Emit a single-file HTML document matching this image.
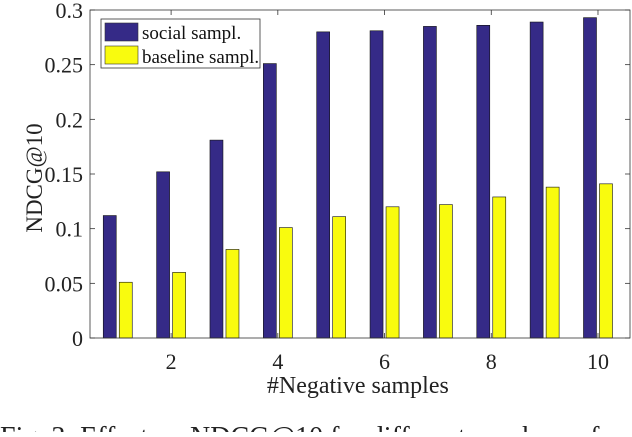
<!DOCTYPE html>
<html><head><meta charset="utf-8"><style>
body{margin:0;background:#fff;width:632px;height:432px;overflow:hidden}
svg{font-family:"Liberation Serif",serif}
</style></head><body>
<svg id="chart" width="632" height="432" xmlns="http://www.w3.org/2000/svg"></svg>
<script>
const categories=[1,2,3,4,5,6,7,8,9,10];
const socialValues=[0.112,0.152,0.181,0.251,0.280,0.281,0.285,0.286,0.289,0.293];
const baselineValues=[0.051,0.060,0.081,0.101,0.111,0.120,0.122,0.129,0.138,0.141];
const xTicks=[2,4,6,8,10];
const yTicks=[0,0.05,0.1,0.15,0.2,0.25,0.3];
const yTickLabels=["0","0.05","0.1","0.15","0.2","0.25","0.3"];
const L=90,R=630,T=10,B=338,xmin=0.48,xmax=10.6,ymax=0.3;
const X=v=>L+(v-xmin)/(xmax-xmin)*(R-L);
const Y=v=>B-v/ymax*(B-T);
const svg=document.getElementById('chart');
const NS="http://www.w3.org/2000/svg";
function mk(t,a,txt){const e=document.createElementNS(NS,t);for(const k in a)e.setAttribute(k,a[k]);if(txt!=null)e.textContent=txt;svg.appendChild(e);return e;}
const bw=13;
categories.forEach((c,i)=>{
 let b=mk('rect',{x:X(c)-8-bw/2,y:Y(socialValues[i]),width:bw,height:B-Y(socialValues[i]),fill:'#352a87',stroke:'#111','stroke-width':0.6});
 
 
 let y=mk('rect',{x:X(c)+8-bw/2,y:Y(baselineValues[i]),width:bw,height:B-Y(baselineValues[i]),fill:'#f9fb0e',stroke:'#111','stroke-width':0.6});
 
 
});
let ax=mk('rect',{x:L,y:T,width:R-L,height:B-T,fill:'none',stroke:'#333','stroke-width':0.8});


xTicks.forEach(t=>{
 mk('line',{x1:X(t),x2:X(t),y1:B,y2:B-5,stroke:'#333','stroke-width':0.8});
 mk('line',{x1:X(t),x2:X(t),y1:T,y2:T+5,stroke:'#333','stroke-width':0.8});
 let l=mk('text',{x:X(t),y:B+31,'text-anchor':'middle','font-size':22,fill:'#222'},t);
 
 
});
yTicks.forEach((t,i)=>{
 mk('line',{x1:L,x2:L+5,y1:Y(t),y2:Y(t),stroke:'#333','stroke-width':0.8});
 mk('line',{x1:R,x2:R-5,y1:Y(t),y2:Y(t),stroke:'#333','stroke-width':0.8});
 let l=mk('text',{x:L-7,y:Y(t)+8,'text-anchor':'end','font-size':22,fill:'#222'},yTickLabels[i]);
 
 
});
let xt=mk('text',{x:X(5.5),y:393,'text-anchor':'middle','font-size':24,fill:'#222'},'#Negative samples');


let yt=mk('text',{x:0,y:0,transform:'translate(42,178) rotate(-90)','text-anchor':'middle','font-size':23,fill:'#222'},'NDCG@10');


let lg=mk('rect',{x:101,y:19,width:159,height:49,fill:'#fff',stroke:'#333','stroke-width':0.8});


mk('rect',{x:105,y:23,width:33,height:18,fill:'#352a87',stroke:'#333','stroke-width':0.6});
let l1=mk('text',{x:142,y:39,'font-size':19,fill:'#111'},'social sampl.');


mk('rect',{x:105,y:46,width:33,height:18,fill:'#f9fb0e',stroke:'#333','stroke-width':0.6});
let l2=mk('text',{x:142,y:63,'font-size':19,fill:'#111'},'baseline sampl.');


let cap=mk('text',{x:0,y:446,'font-size':28,fill:'#222'},'Fig. 3: Effect on NDCG@10 for different numbers of');


</script>
</body></html>
